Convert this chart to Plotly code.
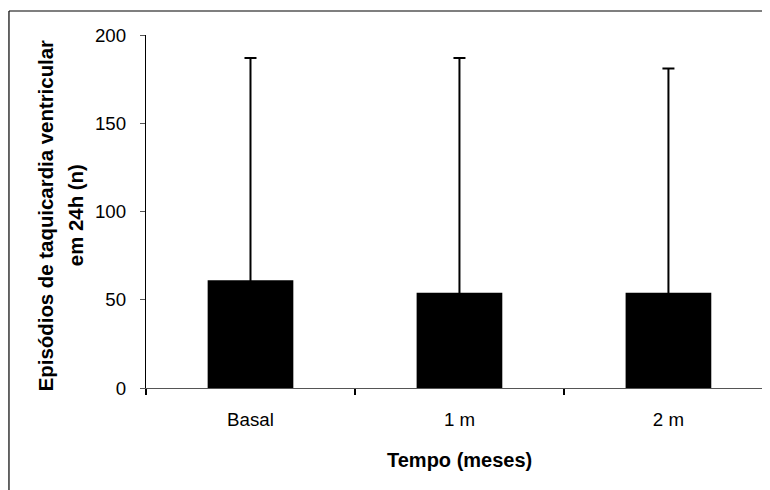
import plotly.graph_objects as go

categories = ["Basal", "1 m", "2 m"]
means = [61, 54, 54]
upper_err = [126, 133, 127]  # whisker tops ~187, 187, 181
y_ticks = [0, 50, 100, 150, 200]

FONT = "Liberation Sans, Arial, sans-serif"

fig = go.Figure()
fig.add_trace(go.Bar(
    x=categories,
    y=means,
    width=0.41,
    marker=dict(color="black", line=dict(color="black", width=0)),
    error_y=dict(type="data", symmetric=False, array=upper_err,
                 arrayminus=[6, 6, 6], color="black", thickness=2, width=6),
    showlegend=False,
))

fig.update_layout(
    width=770, height=490,
    margin=dict(l=138, r=8, t=27, b=110),
    paper_bgcolor="white", plot_bgcolor="white",
    font=dict(family=FONT, color="black"),
    xaxis=dict(
        type="category",
        range=[-0.5, 2.486],
        automargin=False,
        showline=True, linecolor="#555555", linewidth=1.2,
        ticks="outside", ticklen=6, tickcolor="black", tickwidth=1.5,
        tickson="boundaries",
        tickfont=dict(size=18.7, family=FONT),
        ticklabelstandoff=14,
        showgrid=False,
    ),
    yaxis=dict(
        range=[0, 200],
        tickvals=y_ticks,
        automargin=False,
        showline=True, linecolor="black", linewidth=1.2,
        ticks="outside", ticklen=5, tickcolor="#555555", tickwidth=1,
        tickfont=dict(size=18.7, family=FONT),
        ticklabelstandoff=10,
        showgrid=False, zeroline=False,
    ),
    annotations=[
        dict(text="<b>Episódios de taquicardia ventricular</b>", xref="paper", yref="paper",
             x=-0.16, y=0.487, textangle=-90, showarrow=False,
             xanchor="center", yanchor="middle", font=dict(size=20.4, family=FONT)),
        dict(text="<b>em 24h (n)</b>", xref="paper", yref="paper",
             x=-0.112, y=0.49, textangle=-90, showarrow=False,
             xanchor="center", yanchor="middle", font=dict(size=20.4, family=FONT)),
        dict(text="<b>Tempo (meses)</b>", xref="paper", yref="paper",
             x=0.503, y=-0.204, showarrow=False,
             xanchor="center", yanchor="middle", font=dict(size=20, family=FONT)),
    ],
    shapes=[
        dict(type="line", xref="paper", yref="paper", x0=-0.2196, x1=1.05, y0=1.068, y1=1.068,
             line=dict(color="black", width=1.2)),
        dict(type="line", xref="paper", yref="paper", x0=-0.2196, x1=-0.2196, y0=1.068, y1=-0.35,
             line=dict(color="black", width=1.2)),
    ],
)

fig.write_html("out.html")
